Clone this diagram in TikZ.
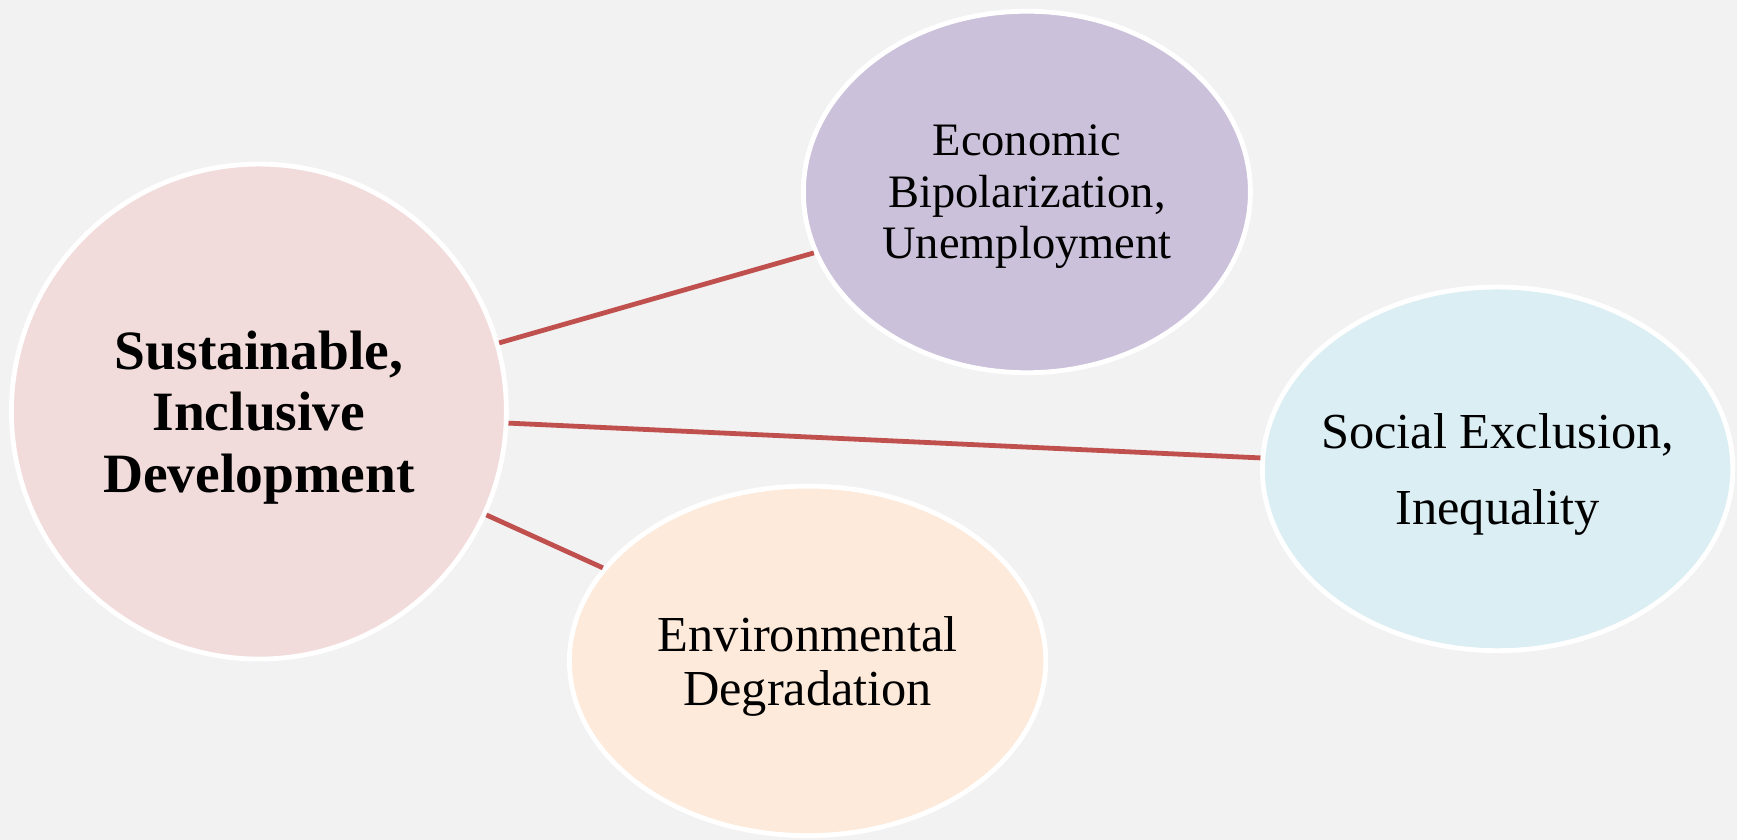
\documentclass[tikz,border=0pt]{standalone}
\usepackage{fontspec}
\setmainfont{Liberation Serif}
\usepackage{tikz}
\usetikzlibrary{shapes}
\definecolor{bgcol}{HTML}{F2F2F2}
\definecolor{linkcol}{HTML}{C0504D}
\definecolor{pinkcol}{HTML}{F2DCDB}
\definecolor{lilaccol}{HTML}{CCC1DA}
\definecolor{bluecol}{HTML}{DAEEF3}
\definecolor{peachcol}{HTML}{FDEADA}
\newcommand{\txt}[2]{\fontsize{#1}{#2}\selectfont}

\begin{document}
\begin{tikzpicture}[x=1pt,y=1pt,
    blob/.style={ellipse, draw=white, line width=1.6pt, align=center, inner sep=0pt, text depth=0pt},
    link/.style={draw=linkcol, line width=1.6pt}]
    \fill[bgcol] (0,0) rectangle (579,280);
    \useasboundingbox (0,0) rectangle (579,280);
    \node[blob, fill=pinkcol, minimum width=165pt, minimum height=165pt, font=\txt{18.5}{20.6}\bfseries]
        (core) at (86.3,142.8) {Sustainable,\\Inclusive\\Development};
    \node[blob, fill=lilaccol, minimum width=149pt, minimum height=120.5pt, font=\txt{15.5}{17.2}]
        (econ) at (342.3,216) {Economic\\Bipolarization,\\Unemployment};
    \node[blob, fill=bluecol, minimum width=156.8pt, minimum height=121.2pt, inner xsep=-6pt, font=\txt{16.8}{25.3}]
        (social) at (499.2,123.7) {Social Exclusion,\\Inequality};
    \node[blob, fill=peachcol, minimum width=158.8pt, minimum height=116.5pt, font=\txt{16.8}{18}]
        (env) at (269.2,59.7) {Environmental\\Degradation};
    \draw[link] (core) -- (econ);
    \draw[link] (core) -- (social);
    \draw[link] (core) -- (env);
\end{tikzpicture}
\end{document}
